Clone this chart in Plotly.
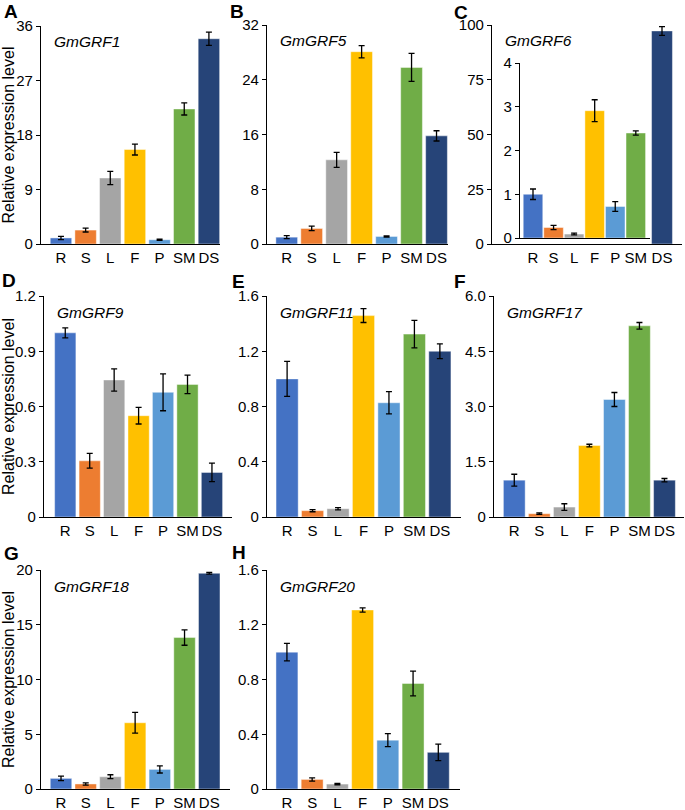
import plotly.graph_objects as go

# ---------------- data ----------------
tissues = ["R", "S", "L", "F", "P", "SM", "DS"]
tissue_colors = ["#4472C4", "#ED7D31", "#A5A5A5", "#FFC000", "#5B9BD5", "#70AD47", "#264478"]

genes = ["GmGRF1", "GmGRF5", "GmGRF6", "GmGRF9", "GmGRF11", "GmGRF17", "GmGRF18", "GmGRF20"]
panel_letters = ["A", "B", "C", "D", "E", "F", "G", "H"]
y_title = "Relative expression level"

grf1 = [1.0, 2.3, 10.9, 15.6, 0.7, 22.3, 33.9]
grf1_err = [0.27, 0.32, 1.1, 0.9, 0.1, 1.0, 1.1]
grf5 = [1.0, 2.27, 12.3, 28.1, 1.1, 25.8, 15.8]
grf5_err = [0.22, 0.33, 1.1, 0.9, 0.1, 2.05, 0.75]
grf6 = [1.0, 0.24, 0.09, 2.91, 0.72, 2.40, 97.3]
grf6_err = [0.12, 0.05, 0.02, 0.25, 0.11, 0.05, 2.0]
grf9 = [1.0, 0.305, 0.744, 0.55, 0.677, 0.72, 0.242]
grf9_err = [0.027, 0.04, 0.06, 0.045, 0.10, 0.05, 0.05]
grf11 = [1.0, 0.046, 0.06, 1.458, 0.827, 1.324, 1.2]
grf11_err = [0.127, 0.008, 0.008, 0.05, 0.08, 0.10, 0.053]
grf17 = [1.0, 0.09, 0.27, 1.94, 3.19, 5.19, 1.0]
grf17_err = [0.16, 0.02, 0.09, 0.035, 0.19, 0.09, 0.045]
grf18 = [0.97, 0.46, 1.12, 6.05, 1.79, 13.83, 19.7]
grf18_err = [0.2, 0.1, 0.18, 0.94, 0.33, 0.7, 0.08]
grf20 = [1.0, 0.07, 0.036, 1.308, 0.357, 0.771, 0.268]
grf20_err = [0.064, 0.012, 0.005, 0.016, 0.048, 0.09, 0.06]

values = [grf1, grf5, grf6, grf9, grf11, grf17, grf18, grf20]
errors = [grf1_err, grf5_err, grf6_err, grf9_err, grf11_err, grf17_err, grf18_err, grf20_err]

y_tickvals = [
    [0, 9, 18, 27, 36],
    [0, 8, 16, 24, 32],
    [0, 25, 50, 75, 100],
    [0, 0.3, 0.6, 0.9, 1.2],
    [0, 0.4, 0.8, 1.2, 1.6],
    [0, 1.5, 3.0, 4.5, 6.0],
    [0, 5, 10, 15, 20],
    [0, 0.4, 0.8, 1.2, 1.6],
]
y_ticktext = [
    ["0", "9", "18", "27", "36"],
    ["0", "8", "16", "24", "32"],
    ["0", "25", "50", "75", "100"],
    ["0", "0.3", "0.6", "0.9", "1.2"],
    ["0", "0.4", "0.8", "1.2", "1.6"],
    ["0", "1.5", "3.0", "4.5", "6.0"],
    ["0", "5", "10", "15", "20"],
    ["0", "0.4", "0.8", "1.2", "1.6"],
]
# inset (broken) scale of panel C
inset_tickvals = [0, 1, 2, 3, 4]
inset_ticktext = ["0", "1", "2", "3", "4"]

# ---------------- layout geometry (pixels) ----------------
W, H = 685, 810
# x0, x1, ytop, ybottom, xrange
geo = [
    (41, 220, 26, 244, [-0.81, 6.45]),
    (267, 448, 25, 244, [-0.79, 6.46]),
    (492, 682, 25, 244, None),
    (44, 232, 296, 517, [-0.87, 6.82]),
    (267, 461, 296, 517, [-0.79, 6.83]),
    (494, 684, 296, 517, [-0.81, 6.78]),
    (41, 230, 570, 789, [-0.81, 6.84]),
    (267, 460, 570, 789, [-0.79, 6.86]),
]
letter_pos = [(2, 11), (228, 11), (452, 12), (0, 280), (230, 281), (452, 281), (2, 553), (230, 552)]

FONT = "Arial, 'Liberation Sans', sans-serif"
tick_font = dict(family=FONT, size=15, color="black")
xtick_font = dict(family=FONT, size=15, color="black")

def px_x(v):
    return v / W

def px_y(v):
    return 1 - v / H

fig = go.Figure()
layout = dict(
    width=W, height=H,
    margin=dict(l=0, r=0, t=0, b=0, autoexpand=False),
    paper_bgcolor="white",
    plot_bgcolor="rgba(0,0,0,0)",
    showlegend=False,
    font=dict(family=FONT, color="black"),
    annotations=[],
)

bar_line = dict(color="rgba(255,255,255,0.55)", width=0.8)

for i in range(8):
    n = i + 1
    xk = "xaxis" if n == 1 else f"xaxis{n}"
    yk = "yaxis" if n == 1 else f"yaxis{n}"
    xr = "x" if n == 1 else f"x{n}"
    yr = "y" if n == 1 else f"y{n}"
    x0, x1, yt, yb, xrange = geo[i]
    vals = values[i]
    errs = errors[i]

    if i == 2:
        # outer: only DS bar on 0-100 scale
        outer_range = [6 - (662 - x0) / 24.0, 6 + (x1 - 662) / 24.0]
        fig.add_trace(go.Bar(
            x=[tissues[-1]], y=[vals[-1]], xaxis=xr, yaxis=yr,
            marker=dict(color=[tissue_colors[-1]], line=bar_line), width=0.87,
            error_y=dict(type="data", array=[errs[-1]], color="black", thickness=1.3, width=3),
        ))
        layout[xk] = dict(domain=[px_x(x0), px_x(x1)], anchor=yr, type="category",
                          categoryorder="array", categoryarray=tissues, range=outer_range,
                          tickmode="array", tickvals=[tissues[-1]], ticktext=[tissues[-1]],
                          showline=True, linecolor="black", linewidth=1.3, ticks="",
                          showgrid=False, zeroline=False, tickfont=xtick_font,
                          ticklabelstandoff=0, automargin=False)
    else:
        fig.add_trace(go.Bar(
            x=tissues, y=vals, xaxis=xr, yaxis=yr,
            marker=dict(color=tissue_colors, line=bar_line), width=0.87,
            error_y=dict(type="data", array=errs, color="black", thickness=1.3, width=3),
        ))
        layout[xk] = dict(domain=[px_x(x0), px_x(x1)], anchor=yr, type="category",
                          categoryorder="array", categoryarray=tissues, range=xrange,
                          showline=True, linecolor="black", linewidth=1.3, ticks="",
                          showgrid=False, zeroline=False, tickfont=xtick_font,
                          ticklabelstandoff=0, automargin=False)
    layout[yk] = dict(domain=[px_y(yb), px_y(yt)], anchor=xr,
                      range=[0, y_tickvals[i][-1]], tickmode="array",
                      tickvals=y_tickvals[i], ticktext=y_ticktext[i],
                      ticks="outside", ticklen=4, tickwidth=1.2, tickcolor="black",
                      showline=True, linecolor="black", linewidth=1.3,
                      showgrid=False, zeroline=False, tickfont=tick_font, automargin=False)

    # gene name
    layout["annotations"].append(dict(
        text=f"<i>{genes[i]}</i>", xref="paper", yref="paper",
        x=px_x(x0 + 11), y=px_y(yt + 16), xanchor="left", yanchor="middle",
        showarrow=False, font=dict(family=FONT, size=15.5, color="black")))
    # panel letter
    lx, ly = letter_pos[i]
    layout["annotations"].append(dict(
        text=f"<b>{panel_letters[i]}</b>", xref="paper", yref="paper",
        x=px_x(lx), y=px_y(ly), xanchor="left", yanchor="middle",
        showarrow=False, font=dict(family=FONT, size=19, color="black")))
    # y title on the first column
    if i in (0, 3, 6):
        layout["annotations"].append(dict(
            text=y_title, xref="paper", yref="paper", textangle=-90,
            x=px_x(8.5), y=px_y((yt + yb) / 2), xanchor="center", yanchor="middle",
            showarrow=False, font=dict(family=FONT, size=16, color="black")))

# inset of panel C (0-4 scale) for R..SM
ix0, ix1, iyt, iyb = 520, 650, 63, 238
inner_range = [-(533 - ix0) / 20.56, 5 + (ix1 - 635.8) / 20.56]
fig.add_trace(go.Bar(
    x=tissues[:-1], y=grf6[:-1], xaxis="x9", yaxis="y9",
    marker=dict(color=tissue_colors[:-1], line=bar_line), width=0.95,
    error_y=dict(type="data", array=grf6_err[:-1], color="black", thickness=1.3, width=3),
))
layout["xaxis9"] = dict(domain=[px_x(ix0), px_x(ix1)], anchor="y9", type="category",
                        categoryorder="array", categoryarray=tissues[:-1], range=inner_range,
                        showline=True, linecolor="black", linewidth=1.3, ticks="",
                        showgrid=False, zeroline=False, tickfont=xtick_font,
                        ticklabelstandoff=6, automargin=False)
layout["yaxis9"] = dict(domain=[px_y(iyb), px_y(iyt)], anchor="x9", range=[0, 4],
                        tickmode="array", tickvals=inset_tickvals, ticktext=inset_ticktext,
                        ticks="outside", ticklen=4, tickwidth=1.2, tickcolor="black",
                        showline=True, linecolor="black", linewidth=1.3,
                        showgrid=False, zeroline=False, tickfont=tick_font, automargin=False)

fig.update_layout(**layout)
fig.write_html(
    "out.html",
    config={"displayModeBar": False},
    post_script="document.body.style.margin='0px';document.body.style.overflow='hidden';",
)
